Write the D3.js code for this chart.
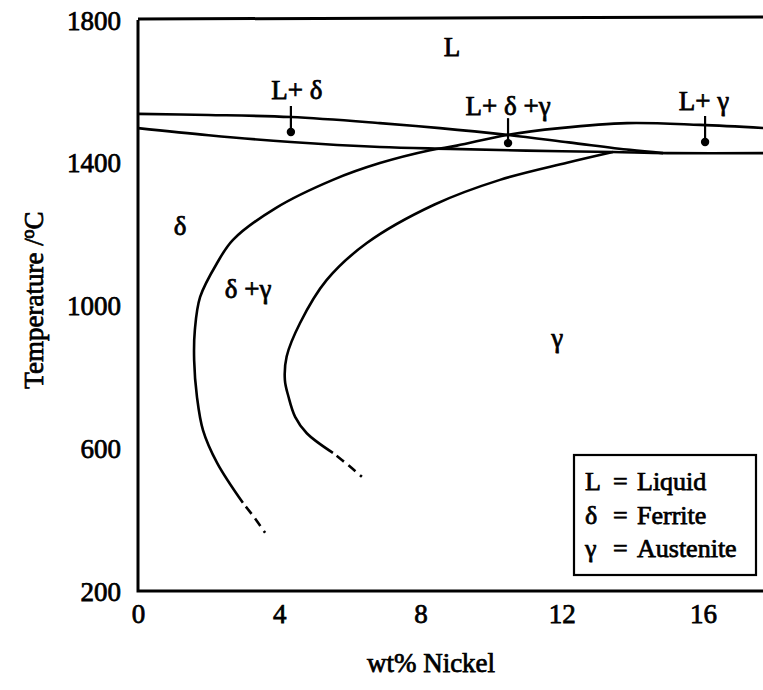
<!DOCTYPE html>
<html>
<head>
<meta charset="utf-8">
<script src="https://cdn.jsdelivr.net/npm/d3@7"></script>
<style>
  html, body { margin: 0; padding: 0; background: #fff; }
  svg { display: block; }
  svg text {
    font-family: "Liberation Serif", "Tinos", "Times New Roman", "DejaVu Serif", "Noto Serif", serif;
    fill: #000; stroke: #000; stroke-width: 0.75px;
  }
</style>
</head>
<body>
<svg id="chart" width="763" height="690" font-family="Liberation Serif, DejaVu Serif, serif"></svg>
<script>
// Fe–Cr–Ni pseudo-binary section: temperature (°C) against wt% nickel

const xTicks = [0, 4, 8, 12, 16];
const yTicks = [200, 600, 1000, 1400, 1800];

// δ liquidus, falling from the iron side towards the three-phase triangle
const deltaLiquidus = [
  [0, 1537], [2, 1534], [4.33, 1528], [6.85, 1511], [8.55, 1497],
  [10.45, 1478], [12.2, 1457], [13.93, 1436], [14.87, 1427]
];

// solidus running across the whole section
const solidus = [
  [0, 1497], [2, 1477], [4.33, 1458], [6.85, 1444], [8.84, 1439],
  [11, 1434], [13.45, 1430], [15, 1427], [17.8, 1427]
];

// δ / (δ+γ) boundary, continuing up into the γ liquidus
const deltaBoundary = [
  [2.97, 447], [2.24, 559], [1.84, 651], [1.67, 744], [1.59, 847],
  [1.61, 931], [1.76, 1024], [2.24, 1119], [2.69, 1184], [3.9, 1273],
  [5.52, 1352], [6.85, 1399], [8.27, 1435], [9.03, 1448], [10.45, 1478],
  [11.95, 1497], [13.85, 1511], [15.92, 1506], [17.8, 1497]
];
const deltaBoundaryLow = [[2.97, 447], [3.3, 405], [3.6, 363]];

// (δ+γ) / γ boundary
const gammaBoundary = [
  [5.52, 587], [4.78, 642], [4.45, 688], [4.26, 745], [4.16, 791],
  [4.21, 857], [4.59, 951], [5.34, 1071], [6.48, 1175], [8.4, 1283],
  [10.25, 1352], [12.15, 1400], [13.45, 1430]
];
const gammaBoundaryLow = [[5.52, 587], [5.95, 553], [6.34, 520]];

// phase-field names
const fieldLabels = ["L", "δ", "δ +γ", "γ"];
const fieldX = [8.89, 1.19, 3.12, 11.87];
const fieldT = [1699, 1198, 1021, 884];

// narrow fields marked with a pointer
const pointerLabels = ["L+ δ", "L+ δ +γ", "L+ γ"];
const pointerTextX = [4.5, 10.48, 16.03];
const pointerTextT = [1579, 1534, 1548];
const pointerX = [4.33, 10.48, 16.06];
const pointerTopT = [1559, 1525, 1531];
const pointerDotT = [1486, 1455, 1458];

// key
const keySymbols = ["L", "δ", "γ"];
const keyNames = ["Liquid", "Ferrite", "Austenite"];

const svg = d3.select("#chart");

const x = d3.scaleLinear().domain([0, 18]).range([138, 138 + 18 * 35.31]);
const y = d3.scaleLinear().domain([200, 1800]).range([591, 20]);

const line = d3.line()
  .x(d => x(d[0]))
  .y(d => y(d[1]))
  .curve(d3.curveCatmullRom.alpha(0.5));

// plot frame
const frame = svg.append("g")
  .attr("fill", "none")
  .attr("stroke", "#000")
  .attr("stroke-width", 3);
frame.append("path")
  .attr("d", `M${x(0)},${y(1800)}V${y(200)}H763`);
frame.append("path")
  .attr("d", `M${x(0)},${y(1800) - 1}L763,${y(1800) - 3}`);

// tick labels through axis generators (ticks themselves hidden)
const xAxis = svg.append("g")
  .attr("transform", `translate(0,${y(200)})`)
  .call(d3.axisBottom(x).tickValues(xTicks).tickFormat(d3.format("d"))
    .tickSize(0).tickPadding(32));
xAxis.attr("font-family", null).attr("font-size", null);
xAxis.select(".domain").remove();
xAxis.selectAll("text")
  .attr("font-size", 27)
  .attr("dy", 0)
  .attr("fill", null);

const yAxis = svg.append("g")
  .attr("transform", `translate(${x(0)},0)`)
  .call(d3.axisLeft(y).tickValues(yTicks).tickFormat(d3.format("d"))
    .tickSize(0).tickPadding(17));
yAxis.attr("font-family", null).attr("font-size", null);
yAxis.select(".domain").remove();
yAxis.selectAll("text")
  .attr("font-size", 27)
  .attr("dy", 9)
  .attr("fill", null);

// axis titles
svg.append("text")
  .attr("x", 431)
  .attr("y", 672)
  .attr("text-anchor", "middle")
  .attr("font-size", 27)
  .text("wt% Nickel");

const yTitle = svg.append("text")
  .attr("transform", "translate(43,300) rotate(-90)")
  .attr("text-anchor", "middle")
  .attr("font-size", 27);
yTitle.append("tspan").text("Temperature /");
yTitle.append("tspan").attr("dy", -9).attr("font-size", 18).text("o");
yTitle.append("tspan").attr("dy", 9).text("C");

// phase boundaries
const curves = svg.append("g")
  .attr("fill", "none")
  .attr("stroke", "#000")
  .attr("stroke-width", 2.6)
  .attr("stroke-linejoin", "round");

[deltaLiquidus, solidus, deltaBoundary, gammaBoundary].forEach(s => {
  curves.append("path").attr("d", line(s));
});
[deltaBoundaryLow, gammaBoundaryLow].forEach(s => {
  curves.append("path")
    .attr("d", line(s))
    .attr("stroke-dasharray", "9,6")
    .attr("stroke-dashoffset", -5);
});

// field names
svg.append("g").selectAll("text")
  .data(fieldLabels)
  .join("text")
  .attr("x", (d, i) => x(fieldX[i]))
  .attr("y", (d, i) => y(fieldT[i]))
  .attr("text-anchor", "middle")
  .attr("font-size", 27)
  .text(d => d);

// pointer labels
const pointers = svg.append("g");
pointers.selectAll("text")
  .data(pointerLabels)
  .join("text")
  .attr("x", (d, i) => x(pointerTextX[i]))
  .attr("y", (d, i) => y(pointerTextT[i]))
  .attr("text-anchor", "middle")
  .attr("font-size", 27)
  .text(d => d);
pointers.selectAll("line")
  .data(pointerLabels)
  .join("line")
  .attr("x1", (d, i) => x(pointerX[i]))
  .attr("x2", (d, i) => x(pointerX[i]))
  .attr("y1", (d, i) => y(pointerTopT[i]))
  .attr("y2", (d, i) => y(pointerDotT[i]))
  .attr("stroke", "#000")
  .attr("stroke-width", 2.2);
pointers.selectAll("circle")
  .data(pointerLabels)
  .join("circle")
  .attr("cx", (d, i) => x(pointerX[i]))
  .attr("cy", (d, i) => y(pointerDotT[i]))
  .attr("r", 4.2)
  .attr("fill", "#000");

// key box
const key = svg.append("g").attr("transform", "translate(574,455)");
key.append("rect")
  .attr("width", 182)
  .attr("height", 120)
  .attr("fill", "#fff")
  .attr("stroke", "#000")
  .attr("stroke-width", 2.2);
const rows = key.selectAll("g.row")
  .data(keySymbols)
  .join("g")
  .attr("class", "row")
  .attr("transform", (d, i) => `translate(0,${35 + i * 33.5})`);
rows.append("text").attr("x", 11).attr("font-size", 26).text(d => d);
rows.append("text").attr("x", 39).attr("font-size", 26).text("=");
rows.append("text").attr("x", 63).attr("font-size", 26).text((d, i) => keyNames[i]);
</script>
</body>
</html>
